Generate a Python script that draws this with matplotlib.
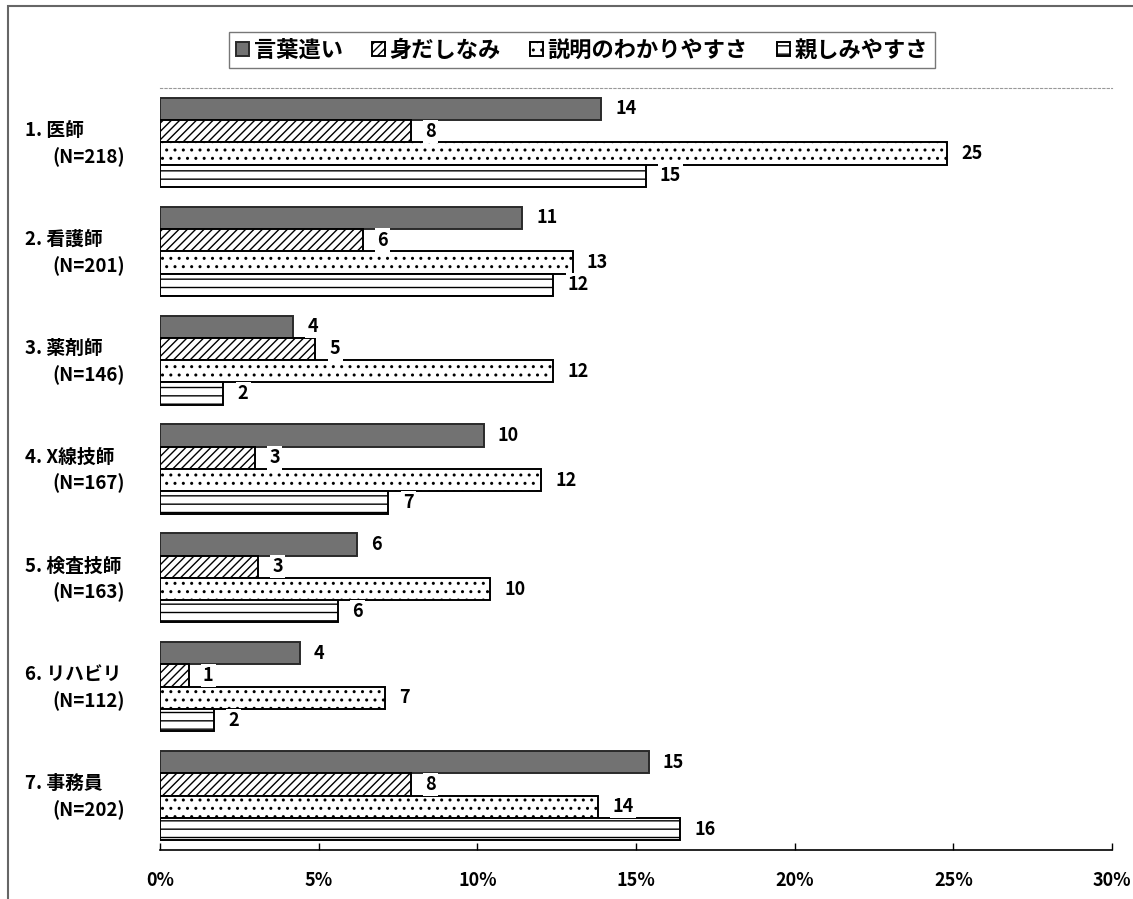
import matplotlib
matplotlib.use("Agg")
import matplotlib.pyplot as plt
import matplotlib.transforms as mtransforms
from matplotlib.patches import Rectangle
import numpy as np

plt.rcParams['font.family'] = ['Noto Sans CJK JP', 'DejaVu Sans']
plt.rcParams['hatch.linewidth'] = 1.0

# job categories and number of respondents
jobs = ["1. 医師", "2. 看護師", "3. 薬剤師", "4. X線技師", "5. 検査技師", "6. リハビリ", "7. 事務員"]
counts = ["(N=218)", "(N=201)", "(N=146)", "(N=167)", "(N=163)", "(N=112)", "(N=202)"]

# percentage of answers per item
series_names = ["言葉遣い", "身だしなみ", "説明のわかりやすさ", "親しみやすさ"]
kotoba = [13.9, 11.4, 4.2, 10.2, 6.2, 4.4, 15.4]
midashinami = [7.9, 6.4, 4.9, 3.0, 3.1, 0.9, 7.9]
setsumei = [24.8, 13.0, 12.4, 12.0, 10.4, 7.1, 13.8]
shitashimi = [15.3, 12.4, 2.0, 7.2, 5.6, 1.7, 16.4]

x_ticks = [0, 5, 10, 15, 20, 25, 30]

fig = plt.figure(figsize=(11.33, 8.99), dpi=100)
ax = fig.add_axes([160 / 1133, 1 - 850 / 899, 952 / 1133, 762 / 899])

styles = [
    dict(facecolor="#727272", edgecolor="#2a2a2a", hatch=None),
    dict(facecolor="white", edgecolor="black", hatch="////"),
    dict(facecolor="white", edgecolor="black", hatch=".."),
    dict(facecolor="white", edgecolor="black", hatch="--"),
]

y = np.arange(len(jobs))
h = 0.205
all_series = [kotoba, midashinami, setsumei, shitashimi]
for k, (vals, st) in enumerate(zip(all_series, styles)):
    pos = y + (k - 1.5) * h
    ax.barh(pos, vals, height=h, label=series_names[k], linewidth=1.4, zorder=2, **st)
    for p, v in zip(pos, vals):
        ax.text(v + 0.45, p, "%.0f" % v, va="center", ha="left", fontsize=13,
                fontweight="bold", zorder=4,
                bbox=dict(facecolor="white", edgecolor="none", pad=1.5))

ax.set_xlim(0, 30)
ax.set_ylim(len(jobs) - 0.5, -0.5)
ax.set_xticks(x_ticks)
ax.set_xticklabels(["%d%%" % t for t in x_ticks], fontsize=13, fontweight="bold")
ax.tick_params(axis="x", direction="in", length=5, width=1, pad=15)
ax.set_yticks([])

for s in ["left", "right"]:
    ax.spines[s].set_visible(False)
ax.spines["top"].set_linestyle((0, (2, 2)))
ax.spines["top"].set_color("#999999")
ax.spines["bottom"].set_linewidth(1.2)

# two-line category labels on the left
trans = mtransforms.blended_transform_factory(fig.transFigure, ax.transData)
for i, (name, n) in enumerate(zip(jobs, counts)):
    ax.text(25 / 1133, i - 0.11, name, transform=trans, ha="left", va="center",
            fontsize=13.5, fontweight="bold")
    ax.text(52 / 1133, i + 0.135, n, transform=trans, ha="left", va="center",
            fontsize=13.5, fontweight="bold")

leg = fig.legend(loc="center", bbox_to_anchor=(582 / 1133, 1 - 50 / 899), ncol=4,
                 frameon=True, fancybox=False, handlelength=0.6,
                 handleheight=0.6, handletextpad=0.2, columnspacing=1.3,
                 borderpad=0.3, prop={"weight": "bold", "size": 16})
leg.get_frame().set_edgecolor("#555555")
leg.get_frame().set_linewidth(1.0)

# outer border of the chart area
fig.patches.append(Rectangle((8 / 1133, -0.05), 1.2, 1 - 6 / 899 + 0.05,
                             transform=fig.transFigure, fill=False,
                             edgecolor="#666666", linewidth=1.5))

fig.savefig("out.png", dpi=100)
